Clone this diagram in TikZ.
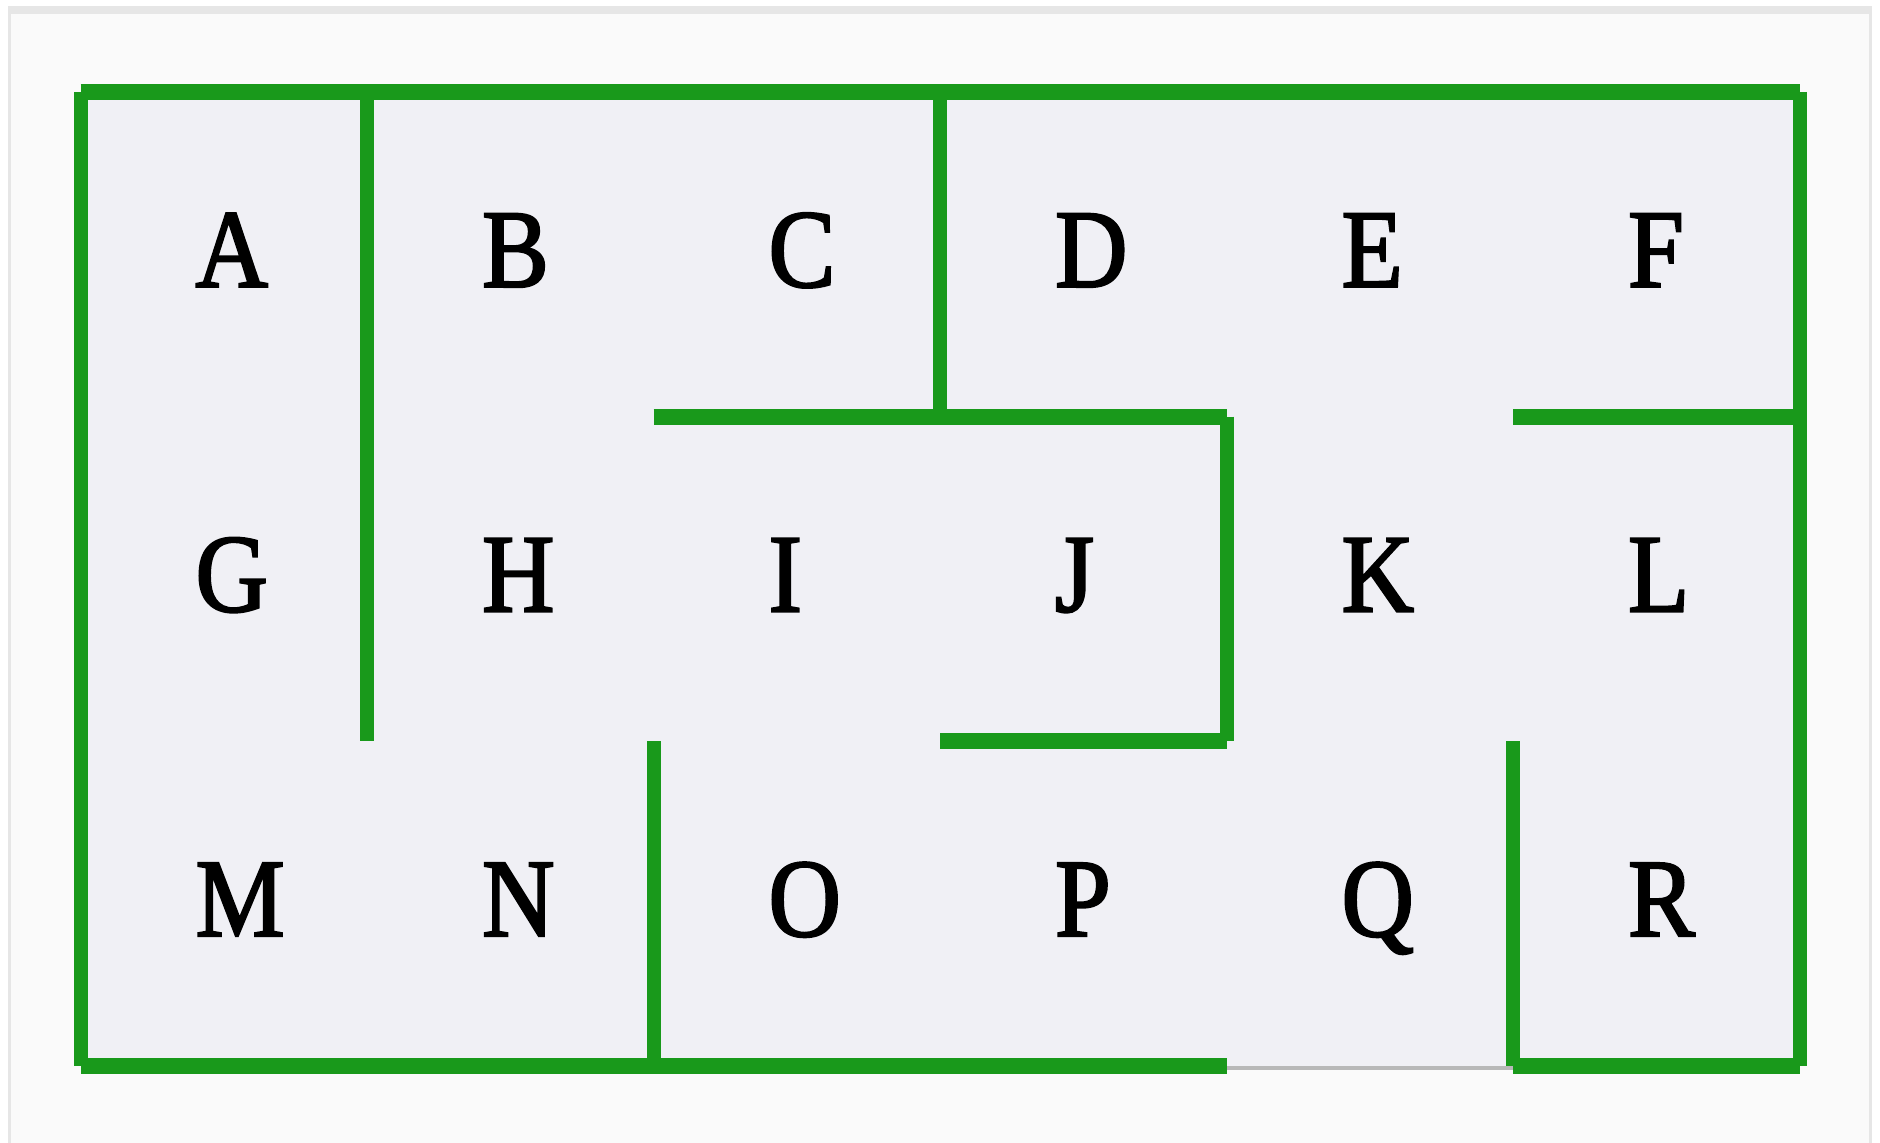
\documentclass[tikz,border=0pt]{standalone}
\usepackage{fontspec}
\usepackage{tikz}
\newfontfamily\mazefont[FakeStretch=0.9,FakeBold=2]{Liberation Serif}
\definecolor{wallgreen}{RGB}{25,153,27}
\definecolor{mazefill}{RGB}{240,240,245}
\definecolor{pagefill}{RGB}{250,250,250}
\definecolor{framegray}{RGB}{230,230,230}
\definecolor{exitgray}{RGB}{184,184,184}

\begin{document}
\begin{tikzpicture}[x=143.25pt,y=-162.33pt,
 hwall/.style={draw=wallgreen,line width=8pt,line cap=butt},
 vwall/.style={draw=wallgreen,line width=7pt,line cap=butt},
 exitline/.style={draw=exitgray,line width=2pt},
 cell/.style={anchor=base west,inner sep=0pt,font=\fontsize{55.75pt}{60pt}\mazefont}]
\useasboundingbox (-40.25pt,46pt) rectangle (899.75pt,-525.5pt);
% page and frame
\fill[framegray] (-36.25pt,43pt) rectangle (895.75pt,-525.5pt);
\fill[pagefill] (-34.75pt,39pt) rectangle (894.25pt,-525.5pt);
\fill[mazefill] (0,0) rectangle (6,3);
% letters
\node[cell] (A) at (0.4,0.6) {A};
\node[cell] (B) at (1.4,0.6) {B};
\node[cell] (C) at (2.4,0.6) {C};
\node[cell] (D) at (3.4,0.6) {D};
\node[cell] (E) at (4.4,0.6) {E};
\node[cell] (F) at (5.4,0.6) {F};
\node[cell] (G) at (0.4,1.6) {G};
\node[cell] (H) at (1.4,1.6) {H};
\node[cell] (I) at (2.4,1.6) {I};
\node[cell] (J) at (3.4,1.6) {J};
\node[cell] (K) at (4.4,1.6) {K};
\node[cell] (L) at (5.4,1.6) {L};
\node[cell] (M) at (0.4,2.6) {M};
\node[cell] (N) at (1.4,2.6) {N};
\node[cell] (O) at (2.4,2.6) {O};
\node[cell] (P) at (3.4,2.6) {P};
\node[cell] (Q) at (4.4,2.6) {Q};
\node[cell] (R) at (5.4,2.6) {R};
% exit
\draw[exitline,yshift=-1pt] (4,3) -- (5,3);
% horizontal walls
\draw[hwall] (0,0) -- (6,0);
\draw[hwall] (0,3) -- (4,3);
\draw[hwall] (5,3) -- (6,3);
\draw[hwall] (2,1) -- (4,1);
\draw[hwall] (5,1) -- (6,1);
\draw[hwall] (3,2) -- (4,2);
% vertical walls
\draw[vwall] (0,0) -- (0,3);
\draw[vwall] (6,0) -- (6,3);
\draw[vwall] (1,0) -- (1,2);
\draw[vwall] (3,0) -- (3,1);
\draw[vwall] (4,1) -- (4,2);
\draw[vwall] (2,2) -- (2,3);
\draw[vwall] (5,2) -- (5,3);
\end{tikzpicture}
\end{document}
